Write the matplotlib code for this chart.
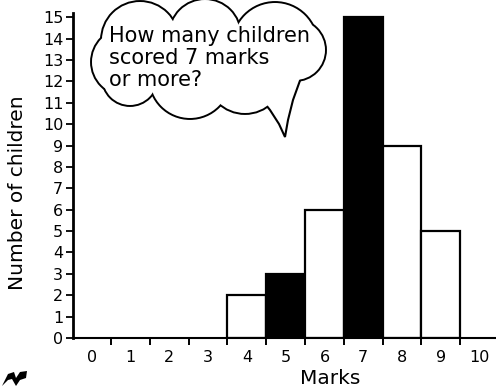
import matplotlib
matplotlib.use('Agg')
import matplotlib.pyplot as plt
from matplotlib.patches import Circle, Polygon

# marks scored and how many children got each
marks = [0, 1, 2, 3, 4, 5, 6, 7, 8, 9, 10]
children = [0, 0, 0, 0, 2, 3, 6, 15, 9, 5, 0]
shaded_marks = [5, 7]
question = 'How many children\nscored 7 marks\nor more?'

plt.rcParams['font.family'] = ['DejaVu Sans']

fig = plt.figure(figsize=(4.96, 3.91), dpi=100)
ax = fig.add_axes([73 / 496, 53 / 391, 1 - 73 / 496, 325 / 391])

for m, n in zip(marks, children):
    if n == 0:
        continue
    fc = 'black' if m in shaded_marks else 'white'
    ax.bar(m, n, width=1.0, color=fc, edgecolor='black', linewidth=1.6)

ax.set_xlim(-0.48, 10.42)
ax.set_ylim(0, 15.2)

for side in ['top', 'right']:
    ax.spines[side].set_visible(False)
ax.spines['left'].set_linewidth(2.0)
ax.spines['bottom'].set_linewidth(1.5)

# numbers sit under the bar centres, tick marks at the bar edges
ax.set_xticks(marks)
ax.set_xticklabels([str(m) for m in marks], fontsize=11.5)
ax.tick_params(axis='x', which='major', length=0, pad=9)
ax.set_xticks([m + 0.5 for m in marks[:-1]], minor=True)
ax.tick_params(axis='x', which='minor', length=5, width=1.4, direction='out')

ax.set_yticks(range(16))
ax.set_yticklabels([str(v) for v in range(16)], fontsize=11.5)
ax.tick_params(axis='y', length=5, width=1.3, direction='out', pad=2)

fig.text(18 / 496, 1 - 193 / 391, 'Number of children', rotation=90,
         ha='center', va='center', fontsize=14.5)
fig.text(330 / 496, 1 - 379 / 391, 'Marks', ha='center', va='center',
         fontsize=14.5)

# speech cloud drawn in pixel coordinates on an overlay
ov = fig.add_axes([0, 0, 1, 1], zorder=5)
ov.set_xlim(0, 496)
ov.set_ylim(391, 0)
ov.axis('off')

lobes = [(140, 40, 38), (125, 62, 33), (130, 78, 27), (190, 78, 40),
         (245, 75, 38), (205, 35, 35), (275, 45, 42), (295, 50, 30)]
for cx, cy, r in lobes:
    ov.add_patch(Circle((cx, cy), r, fc='none', ec='black', lw=2.8, zorder=1))
tail = [(258, 95), (270, 110), (279, 124), (285, 137), (288, 120),
        (293, 100), (302, 75)]
ov.add_patch(Polygon(tail, closed=True, fc='white', ec='black', lw=1.5,
                     zorder=2))
for cx, cy, r in lobes:
    ov.add_patch(Circle((cx, cy), r, fc='white', ec='none', zorder=3))
ov.text(109, 26, question, ha='left', va='top', fontsize=15,
        linespacing=1.12, zorder=4)

# small publisher mark in the corner
ov.add_patch(Polygon([(2, 386), (8, 374), (14, 372), (16, 378), (20, 372),
                      (27, 371), (26, 378), (20, 380), (16, 386), (12, 379),
                      (8, 380)], closed=True, fc='black', ec='none'))

fig.savefig('out.png', dpi=100)
